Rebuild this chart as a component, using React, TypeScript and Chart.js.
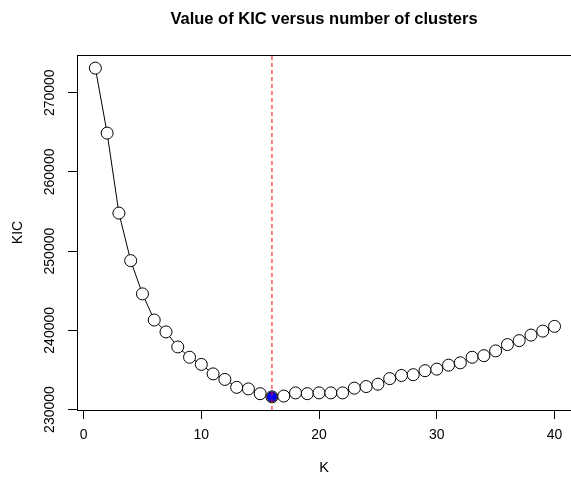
import React, { useEffect, useRef } from "react";
import { Chart, registerables } from "chart.js";

Chart.register(...registerables);

const kValues: number[] = [
  1, 2, 3, 4, 5, 6, 7, 8, 9, 10, 11, 12, 13, 14, 15, 16, 17, 18, 19, 20,
  21, 22, 23, 24, 25, 26, 27, 28, 29, 30, 31, 32, 33, 34, 35, 36, 37, 38, 39, 40,
];
const kicValues: number[] = [
  273100, 264900, 254800, 248800, 244600, 241300, 239800, 237900, 236600, 235700,
  234500, 233800, 232800, 232600, 232000, 231600, 231700, 232100, 232000, 232100,
  232100, 232100, 232700, 232900, 233200, 233900, 234300, 234400, 234900, 235100,
  235600, 235900, 236600, 236800, 237400, 238200, 238700, 239400, 239900, 240500,
];
const bestK = 16;
const xTicks: number[] = [0, 10, 20, 30, 40];
const yTicks: number[] = [230000, 240000, 250000, 260000, 270000];
const titleText = "Value of KIC versus number of clusters";
const xLabel = "K";
const yLabel = "KIC";

const X_MIN = -0.56;
const X_MAX = 41.4;
const Y_MIN = 229940;
const Y_MAX = 274760;

const FONT = "'Liberation Sans', Arial, Helvetica, sans-serif";

const boxPlugin = {
  id: "rbox",
  afterDraw(chart: any) {
    const { ctx, chartArea } = chart;
    ctx.save();
    ctx.strokeStyle = "#000";
    ctx.lineWidth = 1;
    const l = Math.floor(chartArea.left) + 0.5;
    const t = Math.floor(chartArea.top) + 0.5;
    const b = Math.floor(chartArea.bottom) + 0.5;
    const r = Math.floor(chartArea.right) + 0.5;
    ctx.strokeRect(l, t, r - l, b - t);
    ctx.restore();
  },
};

export default function App() {
  const ref = useRef<HTMLCanvasElement | null>(null);

  useEffect(() => {
    if (!ref.current) return;
    const points = kValues.map((k, i) => ({ x: k, y: kicValues[i] }));
    const bestIdx = kValues.indexOf(bestK);
    const chart = new Chart(ref.current, {
      type: "line",
      data: {
        datasets: [
          {
            label: "vline",
            data: [
              { x: bestK, y: Y_MIN },
              { x: bestK, y: Y_MAX },
            ],
            borderColor: "#ff0000",
            borderWidth: 1,
            borderDash: [4, 3],
            pointRadius: 0,
            order: 0,
          },
          {
            label: "best",
            data: [{ x: bestK, y: kicValues[bestIdx] }],
            showLine: false,
            pointRadius: 5,
            pointBackgroundColor: "#0000ff",
            pointBorderColor: "#1a1a3a",
            pointBorderWidth: 1,
            order: 1,
          },
          {
            label: "KIC",
            data: points,
            borderColor: "#000",
            borderWidth: 1,
            pointRadius: 6,
            pointBackgroundColor: "#fff",
            pointBorderColor: "#000",
            pointBorderWidth: 1,
            tension: 0,
            order: 2,
          },
        ],
      },
      options: {
        animation: false,
        responsive: false,
        devicePixelRatio: 1,
        layout: { padding: 0, autoPadding: false },
        plugins: {
          legend: { display: false },
          tooltip: { enabled: false },
          title: {
            display: true,
            text: titleText,
            fullSize: false,
            color: "#000",
            font: { family: FONT, size: 16.5, weight: "bold" },
            padding: { top: 10, bottom: 25.2 },
          },
        },
        scales: {
          x: {
            type: "linear",
            min: X_MIN,
            max: X_MAX,
            afterBuildTicks: (s: any) => {
              s.ticks = xTicks.map((v) => ({ value: v }));
            },
            afterFit: (s: any) => {
              s.height = 67;
              s.paddingLeft = 0;
              s.paddingRight = 0;
            },
            grid: {
              display: true,
              drawOnChartArea: false,
              drawTicks: true,
              tickLength: 9,
              color: "#000",
              tickColor: "#000",
            },
            border: { display: false },
            ticks: {
              color: "#000",
              font: { family: FONT, size: 14 },
              padding: 8,
              maxRotation: 0,
              autoSkip: false,
              callback: (v: any) => String(v),
            },
            title: {
              display: true,
              text: xLabel,
              color: "#000",
              font: { family: FONT, size: 14.5 },
              padding: { top: 0, bottom: 0 },
            },
          },
          y: {
            type: "linear",
            min: Y_MIN,
            max: Y_MAX,
            afterBuildTicks: (s: any) => {
              s.ticks = yTicks.map((v) => ({ value: v }));
            },
            afterFit: (s: any) => {
              s.width = 77;
              s.paddingTop = 0;
              s.paddingBottom = 0;
            },
            grid: {
              display: true,
              drawOnChartArea: false,
              drawTicks: true,
              tickLength: 9,
              color: "#000",
              tickColor: "#000",
            },
            border: { display: false },
            ticks: {
              color: "#000",
              font: { family: FONT, size: 14 },
              minRotation: 90,
              maxRotation: 90,
              crossAlign: "center",
              padding: -5.8,
              autoSkip: false,
              callback: (v: any) => String(v),
            },
            title: {
              display: true,
              text: yLabel,
              color: "#000",
              font: { family: FONT, size: 14 },
              padding: { top: 10, bottom: 0 },
            },
          },
        },
      },
      plugins: [boxPlugin],
    });
    return () => chart.destroy();
  }, []);

  return (
    <div style={{ position: "absolute", left: 0, top: 0, width: 571, height: 477, background: "#fff" }}>
      <canvas ref={ref} width={571} height={477} style={{ display: "block" }} />
    </div>
  );
}
